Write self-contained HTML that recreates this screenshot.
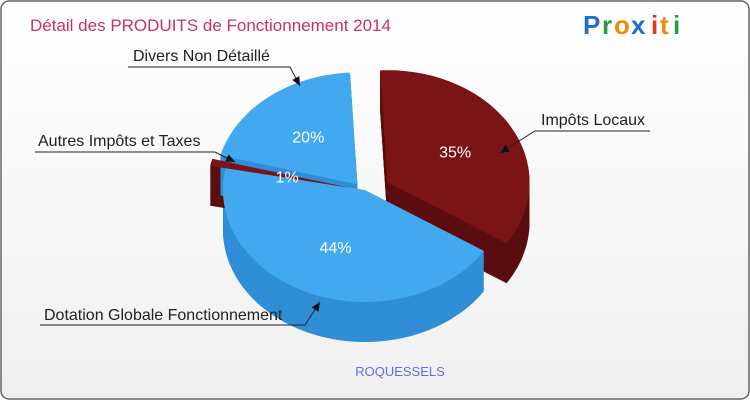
<!DOCTYPE html>
<html><head><meta charset="utf-8"><style>
body{margin:0;background:#fff;}
#wrap{position:relative;width:750px;height:400px;overflow:hidden;font-family:"Liberation Sans","DejaVu Sans",sans-serif;}
</style></head><body>
<div id="wrap">
<svg id="svg" width="750" height="400" viewBox="0 0 750 400">
<defs><linearGradient id="bg" x1="0" y1="0" x2="0" y2="1"><stop offset="0" stop-color="#ffffff"/><stop offset="1" stop-color="#f0f0f0"/></linearGradient></defs>
<rect x="1" y="1" width="748" height="398" rx="8" fill="url(#bg)" stroke="#666" stroke-width="1.5"/>
<text x="30" y="31" font-size="17" fill="#c8306a">Détail des PRODUITS de Fonctionnement 2014</text>
<g font-size="26" font-weight="bold" font-family="'Liberation Sans',sans-serif">
<text x="583" y="34" fill="#1e6fc8">P</text><text x="602" y="34" fill="#2a9a3a">r</text><text x="614" y="34" fill="#f08a10">o</text><text x="631" y="34" fill="#1e6fc8">x</text><text x="651" y="34" fill="#e03a1a">i</text><text x="660" y="34" fill="#f08a10">t</text><text x="673" y="34" fill="#2a9a3a">i</text>
</g>
<g id="slices"></g>
<g id="labels"></g>
<text x="400" y="376" text-anchor="middle" font-size="13" fill="#6a6ae0">ROQUESSELS</text>
</svg>
</div>
<script>
const categories=["Impôts Locaux","Dotation Globale Fonctionnement","Autres Impôts et Taxes","Divers Non Détaillé"];
const values=[35,44,1,20];
const percentLabels=["35%","44%","1%","20%"];
const topColors=["#7b1416","#42a9f0","#7b1416","#42a9f0"];
const sideColors=["#5a0e10","#2f8ed6","#5a0e10","#2f8ed6"];
const explode=[26,0,16,12];
const cx=365,cy=190,rx=142,ry=112,depth=40,startAng=-3*Math.PI/180;
const NS="http://www.w3.org/2000/svg";
const g=document.getElementById('slices');
const total=values.reduce((a,b)=>a+b,0);
function pt(a,ox,oy,dy){return [cx+ox+rx*Math.sin(a),cy+oy+dy-ry*Math.cos(a)];}
function slicePath(a0,a1,ox,oy,dy){
  let d=`M${cx+ox},${cy+oy+dy}`;
  const n=Math.max(2,Math.ceil((a1-a0)/0.03));
  for(let i=0;i<=n;i++){const p=pt(a0+(a1-a0)*i/n,ox,oy,dy);d+=` L${p[0].toFixed(1)},${p[1].toFixed(1)}`;}
  return d+' Z';
}
let acc=0;const geo=[];
values.forEach((v,i)=>{const a0=startAng+acc/total*2*Math.PI;acc+=v;const a1=startAng+acc/total*2*Math.PI;const m=(a0+a1)/2;
  geo.push({a0,a1,m,ox:explode[i]*Math.sin(m),oy:-explode[i]*Math.cos(m)*0.6});});
geo.forEach((s,i)=>{
  for(let d=depth;d>=1;d-=1){
    const p=document.createElementNS(NS,'path');
    p.setAttribute('d',slicePath(s.a0,s.a1,s.ox,s.oy,d));
    p.setAttribute('fill',sideColors[i]);
    
    
    g.appendChild(p);
  }
});
geo.forEach((s,i)=>{
  const p=document.createElementNS(NS,'path');
  p.setAttribute('d',slicePath(s.a0,s.a1,s.ox,s.oy,0));
  p.setAttribute('fill',topColors[i]);
  
  
  g.appendChild(p);
  const r=(i===2)?0.45:0.55;
  const t=document.createElementNS(NS,'text');
  t.setAttribute('x',cx+s.ox+rx*r*Math.sin(s.m));
  t.setAttribute('y',cy+s.oy-ry*r*Math.cos(s.m)+6);
  t.setAttribute('text-anchor','middle');t.setAttribute('font-size','16');t.setAttribute('fill','#ffffff');
  t.textContent=percentLabels[i];
  
  
  g.appendChild(t);
});
const lab=document.getElementById('labels');
const callouts=[
 {i:0,tx:541,ty:125,ux0:535,ux1:650,uy:131,sx:535,ax:500,ay:153},
 {i:1,tx:44,ty:320,ux0:40,ux1:305,uy:325,sx:305,ax:320,ay:302},
 {i:2,tx:38,ty:146,ux0:35,ux1:215,uy:152,sx:215,ax:235,ay:162},
 {i:3,tx:133,ty:61,ux0:128,ux1:290,uy:67,sx:290,ax:300,ay:86}
];
callouts.forEach(c=>{
  const t=document.createElementNS(NS,'text');
  t.setAttribute('x',c.tx);t.setAttribute('y',c.ty);t.setAttribute('font-size','16');t.setAttribute('fill','#222');
  t.textContent=categories[c.i];
  
  
  lab.appendChild(t);
  const l=document.createElementNS(NS,'polyline');
  l.setAttribute('points',`${c.ux0},${c.uy} ${c.ux1},${c.uy} ${c.sx},${c.uy} ${c.ax},${c.ay}`);
  l.setAttribute('fill','none');l.setAttribute('stroke','#222');l.setAttribute('stroke-width','1');
  
  
  lab.appendChild(l);
  const sx=c.sx,sy=c.uy,ang=Math.atan2(c.ay-sy,c.ax-sx);
  const L=9,W=4;
  const bx=c.ax-L*Math.cos(ang),by=c.ay-L*Math.sin(ang);
  const h=document.createElementNS(NS,'polygon');
  h.setAttribute('points',`${c.ax},${c.ay} ${bx-W*Math.sin(ang)},${by+W*Math.cos(ang)} ${bx+W*Math.sin(ang)},${by-W*Math.cos(ang)}`);
  h.setAttribute('fill','#111');
  
  
  lab.appendChild(h);
});
</script>
</body></html>
